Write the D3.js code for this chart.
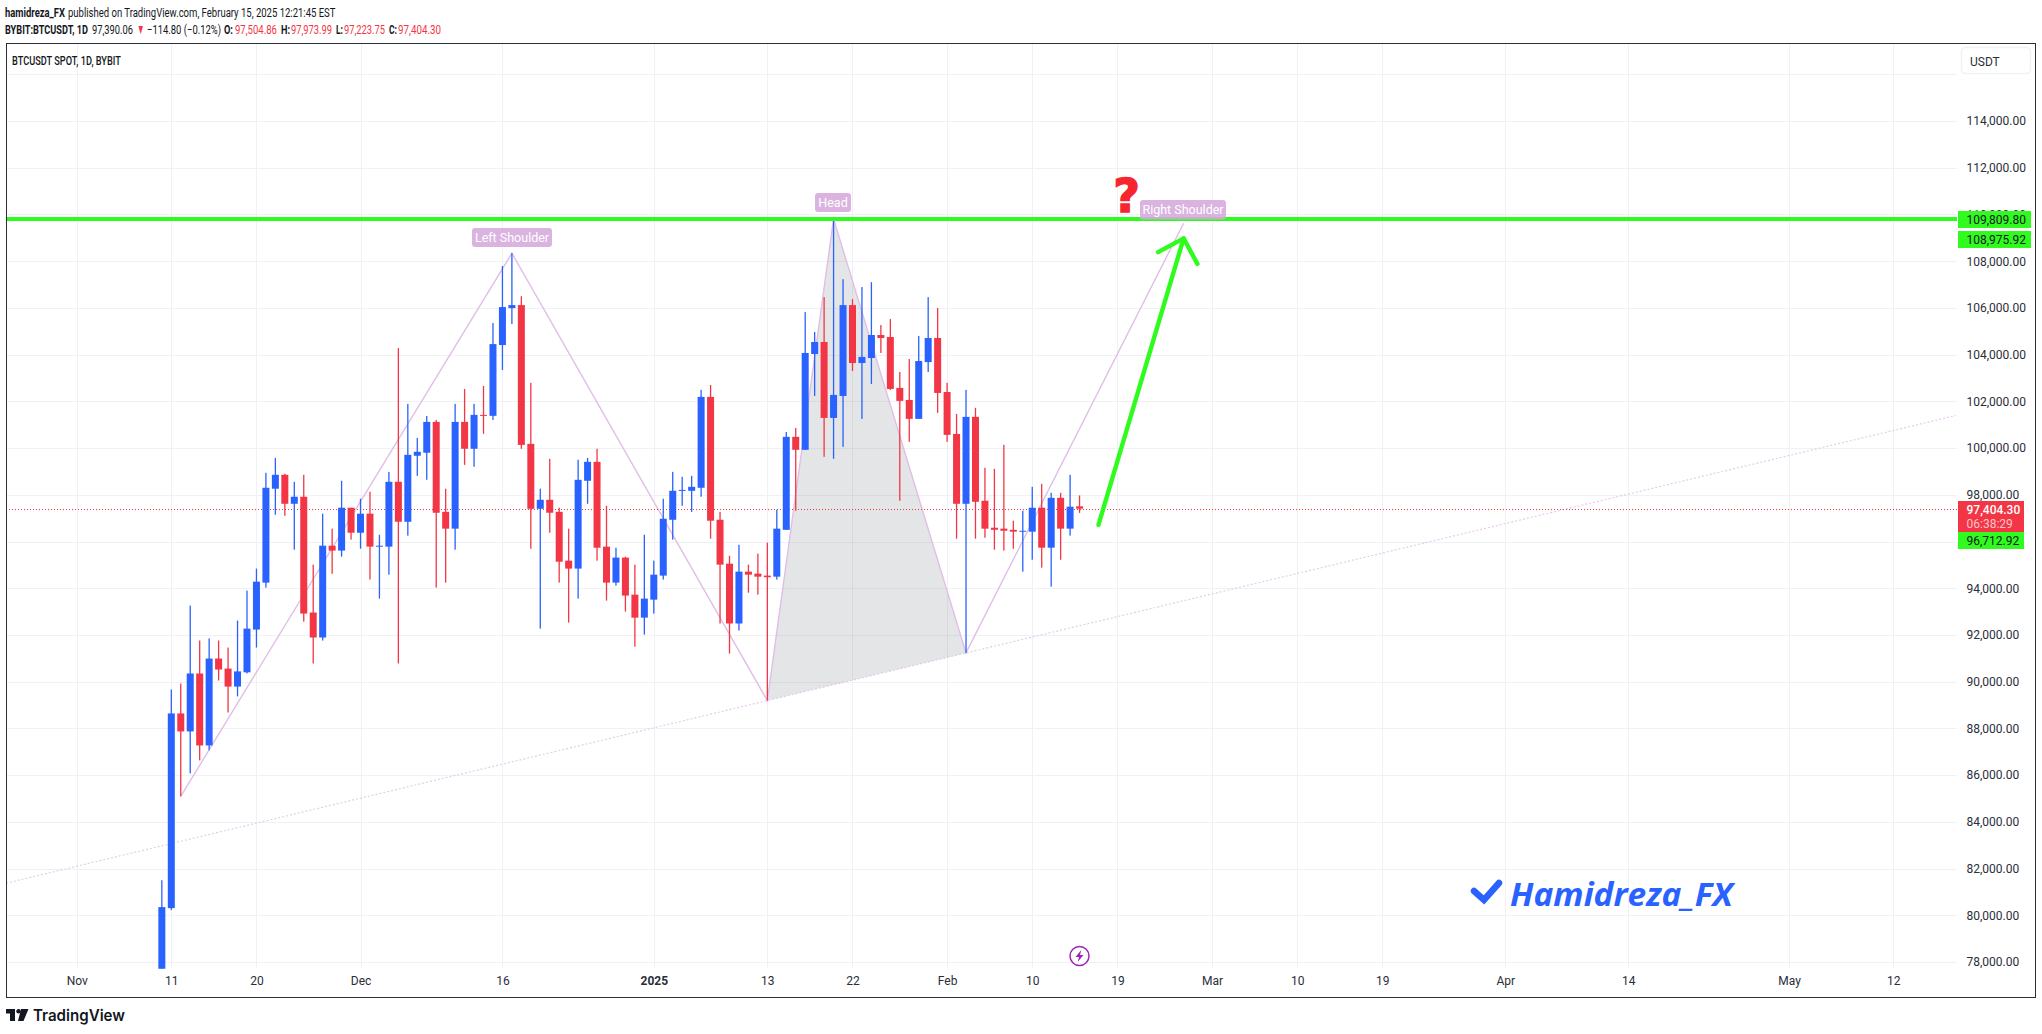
<!DOCTYPE html>
<html>
<head>
<meta charset="utf-8">
<title>BTCUSDT</title>
<script src="https://cdn.jsdelivr.net/npm/d3@7"></script>
<style>
  html, body { margin: 0; padding: 0; background: #fff; }
  svg { display: block; }
  text { font-family: Roboto, sans-serif; }
</style>
</head>
<body>
<div id="chart"></div>
<script>
// daily candles, first one is 2024-11-10
const firstDay = '2024-11-10';
const opens = [76800,80306,88640,87870,90350,87270,90990,90560,89790,90400,92230,94240,98260,98855,97615,97915,92960,91890,95820,95610,97445,96375,97190,95780,95780,98555,96845,99670,99800,101120,97270,96550,101120,99970,101420,101380,104410,105990,106120,100180,97400,97785,97270,95180,94840,98600,99410,95780,94240,95310,93725,92740,93510,94540,96930,98170,98170,98300,102190,96930,95050,92490,94710,94625,94540,94495,96500,100480,99925,104025,104540,101290,102230,106120,103640,103855,104840,104755,102575,102060,101250,103680,104710,102400,100605,97615,101335,97745,96590,96550,96500,96420,96420,97445,95735,97870,96550,97504.86];
const highs = [81500,89666,89920,93256,91760,91850,91760,91460,92615,93900,94840,98940,99580,98900,98555,98855,95010,97190,96550,98600,97445,97830,98130,96290,98980,104280,101890,100435,101375,101205,98260,101890,102530,101890,102660,105350,107790,108340,106500,102790,98260,99540,97445,96550,99500,99580,99970,97530,95735,95350,95010,96290,95180,97830,98980,98770,98810,102490,102700,97270,95390,95860,95010,95480,95950,97360,100690,100860,105820,104970,106460,109810,107230,106375,106890,107100,105265,105520,103255,103810,104800,106460,105990,102790,101460,102490,101720,99155,99110,100135,96890,97315,98340,98470,98085,98085,98855,97973.99];
const lows = [76500,80220,85090,86075,86630,87060,90050,88680,89370,90350,91460,94025,97145,97100,95650,92570,90780,91760,94620,95350,96080,95690,94370,93555,94580,90780,96250,98810,98640,94025,94240,95650,99280,99200,100610,101205,103340,105310,99970,95690,92270,96375,94240,92530,93555,97615,95180,93470,94110,93000,91500,92015,92915,94370,96080,97530,97270,97915,96120,92490,91200,92190,93810,93725,89190,94370,96500,97315,99925,102230,99625,99540,100050,103300,101250,102745,104070,102490,97745,100265,101250,103255,101505,100265,96120,91230,96120,96160,95650,95610,95690,94710,95220,94880,94070,95220,96250,97223.75];
const closes = [80350,88640,87870,90350,87270,90990,90520,89790,90440,92270,94280,98300,98855,97615,97915,92915,91890,95820,95610,97445,96375,97190,95780,95820,98555,96845,99710,99840,101120,97230,96550,101120,99970,101420,101380,104450,106035,106120,100135,97400,97785,97230,95135,94840,98640,99410,95735,94240,95310,93685,92740,93555,94580,96975,98170,98210,98340,102190,96890,95010,92490,94710,94580,94495,94470,96550,100480,99925,104070,104540,101290,102275,106120,103640,103900,104840,104710,102530,102020,101250,103725,104710,102360,100565,97615,101335,97700,96550,96500,96460,96420,96460,97445,95735,97870,96550,97490,97404.30];

const priceTicks = [78000,80000,82000,84000,86000,88000,90000,92000,94000,96000,98000,100000,102000,104000,106000,108000,110000,112000,114000];
const gridOnlyPrices = [116000];
const timeTickDates = ['2024-11-01','2024-11-11','2024-11-20','2024-12-01','2024-12-16','2025-01-01','2025-01-13','2025-01-22','2025-02-01','2025-02-10','2025-02-19','2025-03-01','2025-03-10','2025-03-19','2025-04-01','2025-04-14','2025-05-01','2025-05-12'];
const timeTickLabels = ['Nov','11','20','Dec','16','2025','13','22','Feb','10','19','Mar','10','19','Apr','14','May','12'];

// head and shoulders drawing
const patternDates = ['2024-11-12','2024-12-17','2025-01-13','2025-01-20','2025-02-03','2025-02-26'];
const patternPrices = [85090,108340,89190,109810,91230,109625];
const levelPrice = 109809.80;
const lastPrice = 97404.30;
const arrowDates = ['2025-02-17','2025-02-26'];
const arrowPrices = [96712.92,108975.92];

const width = 2042;
const height = 1034;
const plot = { left: 6, right: 1957, top: 44, bottom: 968.7 };

const parseDay = d3.utcParse('%Y-%m-%d');
const blue = '#2962FF';
const red = '#F23645';
const green = '#30FB1E';
const purple = '#E1BEE7';

const x = d3.scaleUtc()
  .domain([parseDay('2024-11-11'), parseDay('2025-05-12')])
  .range([171.3, 1893.2]);

const y = d3.scaleLinear()
  .domain([78000, 114000])
  .range([962, 121]);

const svg = d3.select('#chart').append('svg')
  .attr('width', width)
  .attr('height', height)
  .attr('viewBox', `0 0 ${width} ${height}`);

svg.append('rect').attr('width', width).attr('height', height).attr('fill', '#fff');

svg.append('clipPath').attr('id', 'plot-clip').append('rect')
  .attr('x', plot.left)
  .attr('y', plot.top)
  .attr('width', plot.right - plot.left)
  .attr('height', plot.bottom - plot.top);

// squeezes a text to the wanted width, the published header is narrower than any font we have
function fitText(sel, px, py, targetWidth) {
  const natural = sel.node().getComputedTextLength();
  sel.attr('transform', `translate(${px},${py}) scale(${targetWidth / natural},1)`);
  return sel;
}

// grid
const grid = svg.append('g').attr('stroke', '#F0F1F3').attr('stroke-width', 1);
grid.selectAll('.v')
  .data(timeTickDates)
  .join('line')
  .attr('class', 'v')
  .attr('x1', d => Math.round(x(parseDay(d))) + 0.5)
  .attr('x2', d => Math.round(x(parseDay(d))) + 0.5)
  .attr('y1', plot.top)
  .attr('y2', plot.bottom);
grid.selectAll('.h')
  .data(priceTicks.concat(gridOnlyPrices))
  .join('line')
  .attr('class', 'h')
  .attr('x1', plot.left)
  .attr('x2', plot.right)
  .attr('y1', d => Math.round(y(d)) + 0.5)
  .attr('y2', d => Math.round(y(d)) + 0.5);

const plotG = svg.append('g').attr('clip-path', 'url(#plot-clip)');

// drawing points in pixels
const patternPts = patternDates.map((d, i) => [x(parseDay(d)), y(patternPrices[i])]);

// shaded head
plotG.append('path')
  .attr('d', d3.line()([patternPts[2], patternPts[3], patternPts[4]]) + 'Z')
  .attr('fill', 'rgba(120,123,134,0.2)');

// neckline through both troughs, extended both ways
const neckSlope = (patternPts[4][1] - patternPts[2][1]) / (patternPts[4][0] - patternPts[2][0]);
const neckAt = px => patternPts[2][1] + (px - patternPts[2][0]) * neckSlope;
plotG.append('line')
  .attr('x1', plot.left)
  .attr('y1', neckAt(plot.left))
  .attr('x2', 1956)
  .attr('y2', neckAt(1956))
  .attr('stroke', purple)
  .attr('stroke-opacity', 0.8)
  .attr('stroke-width', 1.2)
  .attr('stroke-dasharray', '2 2');

plotG.append('path')
  .attr('d', d3.line()(patternPts))
  .attr('fill', 'none')
  .attr('stroke', purple)
  .attr('stroke-width', 1.4);

// last price line
plotG.append('line')
  .attr('x1', plot.left)
  .attr('x2', plot.right)
  .attr('y1', Math.round(y(lastPrice)) + 0.5)
  .attr('y2', Math.round(y(lastPrice)) + 0.5)
  .attr('stroke', red)
  .attr('stroke-width', 1)
  .attr('stroke-dasharray', '1 2');

// candles
const candles = closes.map((c, i) => ({
  date: d3.utcDay.offset(parseDay(firstDay), i),
  open: opens[i],
  high: highs[i],
  low: lows[i],
  close: c
}));
const candleColor = d => d.close >= d.open ? blue : red;

plotG.selectAll('.wick')
  .data(candles)
  .join('rect')
  .attr('class', 'wick')
  .attr('x', d => x(d.date) - 0.65)
  .attr('width', 1.3)
  .attr('y', d => y(d.high))
  .attr('height', d => y(d.low) - y(d.high))
  .attr('fill', candleColor);

plotG.selectAll('.body')
  .data(candles)
  .join('rect')
  .attr('class', 'body')
  .attr('x', d => x(d.date) - 3.5)
  .attr('width', 7)
  .attr('y', d => y(Math.max(d.open, d.close)))
  .attr('height', d => Math.max(1, Math.abs(y(d.open) - y(d.close))))
  .attr('fill', candleColor);

// green level
plotG.append('line')
  .attr('x1', plot.left)
  .attr('x2', plot.right)
  .attr('y1', y(levelPrice))
  .attr('y2', y(levelPrice))
  .attr('stroke', green)
  .attr('stroke-width', 4);

// green arrow
const arrowStart = [x(parseDay(arrowDates[0])), y(arrowPrices[0])];
const arrowTip = [x(parseDay(arrowDates[1])), y(arrowPrices[1])];
const arrowAngle = Math.atan2(arrowStart[1] - arrowTip[1], arrowStart[0] - arrowTip[0]);
const wing = a => [arrowTip[0] + 29 * Math.cos(arrowAngle + a), arrowTip[1] + 29 * Math.sin(arrowAngle + a)];
const arrowG = plotG.append('g')
  .attr('fill', 'none')
  .attr('stroke', green)
  .attr('stroke-width', 4.4)
  .attr('stroke-linecap', 'round')
  .attr('stroke-linejoin', 'round');
arrowG.append('path').attr('d', d3.line()([arrowStart, arrowTip]));
arrowG.append('path').attr('d', d3.line()([wing(Math.PI / 4), arrowTip, wing(-Math.PI / 4)]));

// pattern labels
const labelData = [
  { text: 'Left Shoulder', x0: 472, x1: 552, y0: 228, y1: 247 },
  { text: 'Head', x0: 815, x1: 851, y0: 193, y1: 212 },
  { text: 'Right Shoulder', x0: 1140, x1: 1226, y0: 200, y1: 219.5 }
];
labelData.forEach(l => {
  plotG.append('rect')
    .attr('x', l.x0).attr('y', l.y0)
    .attr('width', l.x1 - l.x0).attr('height', l.y1 - l.y0)
    .attr('rx', 3)
    .attr('fill', '#D5A9DD')
    .attr('fill-opacity', 0.88);
  plotG.append('text')
    .attr('x', (l.x0 + l.x1) / 2)
    .attr('y', (l.y0 + l.y1) / 2 + 4.5)
    .attr('text-anchor', 'middle')
    .attr('fill', '#fff')
    .style('font-size', '12.5px')
    .text(l.text);
});

// question mark
plotG.append('text')
  .attr('x', 1126.5)
  .attr('y', 212)
  .attr('text-anchor', 'middle')
  .attr('fill', '#F7252F')
  .attr('stroke', '#F7252F')
  .attr('stroke-width', 1.5)
  .style('font-family', '"DejaVu Sans", sans-serif')
  .style('font-weight', 'bold')
  .style('font-size', '46px')
  .text('?');

// watermark
plotG.append('path')
  .attr('d', 'M1474,891 L1484,900 L1499,883')
  .attr('fill', 'none')
  .attr('stroke', blue)
  .attr('stroke-width', 6.5)
  .attr('stroke-linecap', 'round');
fitText(plotG.append('text')
  .attr('fill', blue)
  .style('font-family', '"Open Sans", sans-serif')
  .style('font-weight', '700')
  .style('font-style', 'italic')
  .style('font-size', '32px')
  .text('Hamidreza_FX'), 1510, 906, 223);

// lightning button
const boltG = svg.append('g').attr('transform', 'translate(1079.5,956)');
boltG.append('circle').attr('r', 9.5).attr('fill', '#fff').attr('stroke', '#9C27B0').attr('stroke-width', 1.5);
boltG.append('path')
  .attr('d', 'M1.8,-6 L-4,1 L-0.5,1 L-1.8,6 L4,-1 L0.5,-1 Z')
  .attr('fill', '#9C27B0');

// price axis
const yAxis = d3.axisRight(y)
  .tickValues(priceTicks)
  .tickSize(0)
  .tickPadding(0)
  .tickFormat(d3.format(',.2f'));
const yAxisG = svg.append('g')
  .attr('transform', 'translate(1966.5,0)')
  .call(yAxis);
yAxisG.select('.domain').remove();
yAxisG.selectAll('text')
  .attr('fill', '#2A2E39')
  .style('font-family', 'Roboto, sans-serif')
  .style('font-size', '12px');

// price labels
const priceTags = [
  { v: levelPrice, y0: 211, y1: 228, x1: 2031, bg: green, fg: '#131722' },
  { v: arrowPrices[1], y0: 231, y1: 248, x1: 2031, bg: green, fg: '#131722' },
  { v: arrowPrices[0], y0: 532, y1: 549, x1: 2024, bg: green, fg: '#131722' }
];
priceTags.forEach(t => {
  svg.append('rect')
    .attr('x', 1958).attr('y', t.y0)
    .attr('width', t.x1 - 1958).attr('height', t.y1 - t.y0)
    .attr('fill', t.bg);
  svg.append('text')
    .attr('x', 1966.5).attr('y', (t.y0 + t.y1) / 2 + 4.3)
    .attr('fill', t.fg)
    .style('font-size', '12px')
    .text(d3.format(',.2f')(t.v));
});
svg.append('rect').attr('x', 1958).attr('y', 501).attr('width', 66).attr('height', 31).attr('fill', red);
svg.append('text')
  .attr('x', 1966.5).attr('y', 513.5).attr('fill', '#fff')
  .style('font-size', '12px').style('font-weight', '500')
  .text(d3.format(',.2f')(lastPrice));
svg.append('text')
  .attr('x', 1966.5).attr('y', 527.5).attr('fill', '#FFC4C9')
  .style('font-size', '12px')
  .text('06:38:29');

// currency button
svg.append('rect')
  .attr('x', 1961.5).attr('y', 47.5).attr('width', 69).attr('height', 26).attr('rx', 4)
  .attr('fill', '#fff').attr('stroke', '#F0F1F3').attr('stroke-width', 1.4);
svg.append('text')
  .attr('x', 1970).attr('y', 66).attr('fill', '#2A2E39')
  .style('font-size', '12px')
  .text('USDT');

// time axis
const xAxis = d3.axisBottom(x)
  .tickValues(timeTickDates.map(parseDay))
  .tickSize(0)
  .tickPadding(0)
  .tickFormat((d, i) => timeTickLabels[i]);
const xAxisG = svg.append('g')
  .attr('transform', 'translate(0,976)')
  .call(xAxis);
xAxisG.select('.domain').remove();
xAxisG.selectAll('text')
  .attr('fill', '#2A2E39')
  .style('font-family', 'Roboto, sans-serif')
  .style('font-size', '12px')
  .style('font-weight', (d, i) => timeTickLabels[i] === '2025' ? '700' : '400');

// frame
svg.append('rect')
  .attr('x', 6.5).attr('y', 43.5).attr('width', 2029).attr('height', 954)
  .attr('fill', 'none')
  .attr('stroke', '#2A2E39')
  .attr('stroke-width', 1);

fitText(svg.append('text')
  .attr('fill', '#131722')
  .style('font-size', '12.5px').style('font-weight', '500')
  .text('BTCUSDT SPOT, 1D, BYBIT'), 12, 65, 109);

// header lines: text, x, width, y, colour, weight, size
const dark = '#131722';
const headerParts = [
  ['hamidreza_FX', 5, 60, 17, dark, '700', 13],
  ['published on TradingView.com, February 15, 2025 12:21:45 EST', 68, 268, 17, dark, '400', 13],
  ['BYBIT:BTCUSDT, 1D', 5, 83, 34, dark, '700', 13],
  ['97,390.06', 92, 41, 34, dark, '400', 13],
  ['▼', 137, 7.5, 34, red, '400', 14],
  ['−114.80 (−0.12%)', 147, 74, 34, dark, '400', 13],
  ['O:', 224, 9, 34, dark, '700', 13],
  ['97,504.86', 235, 42, 34, red, '400', 13],
  ['H:', 281, 9, 34, dark, '700', 13],
  ['97,973.99', 291, 41, 34, red, '400', 13],
  ['L:', 336, 7, 34, dark, '700', 13],
  ['97,223.75', 344, 41, 34, red, '400', 13],
  ['C:', 389, 8, 34, dark, '700', 13],
  ['97,404.30', 398, 43, 34, red, '400', 13]
];
headerParts.forEach(p => {
  fitText(svg.append('text')
    .attr('fill', p[4])
    .style('font-size', p[6] + 'px')
    .style('font-weight', p[5])
    .text(p[0]), p[1], p[3], p[2]);
});

// TradingView mark
svg.append('path')
  .attr('d', 'M6,1009 H15 V1021 H10 V1013.5 H6 Z M21,1009 H28.5 L23.5,1021 H18 Z')
  .attr('fill', '#131722');
svg.append('circle').attr('cx', 18.5).attr('cy', 1011.2).attr('r', 2.2).attr('fill', '#131722');
fitText(svg.append('text')
  .attr('fill', '#131722')
  .style('font-family', 'Inter, sans-serif')
  .style('font-weight', '600')
  .style('font-size', '16px')
  .text('TradingView'), 33, 1020.5, 92);
</script>
</body>
</html>
